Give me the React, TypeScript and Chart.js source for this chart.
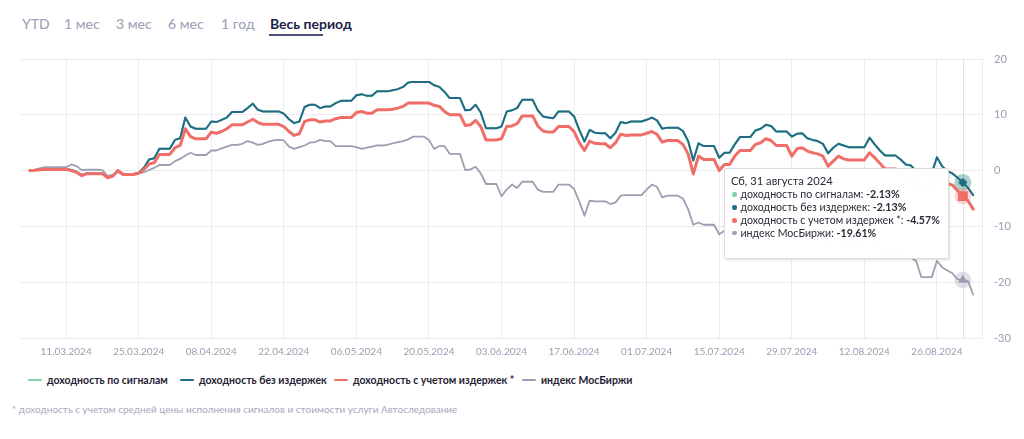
import React, { useEffect, useRef, useState } from 'react';
import { Chart, registerables } from 'chart.js';

Chart.register(...registerables);

// ---------- DATA ----------
// Daily points, starting Monday 04.03.2024 (rows = Mon..Sun)
const START_DATE = Date.UTC(2024, 2, 4);

// доходность без издержек
const noCostReturns: number[] = [
  0.0, 0.1, 0.25, 0.3, 0.3, 0.3, 0.3,
  0.3, 0.1, -0.2, -0.8, -0.5, -0.5, -0.5,
  -0.5, -1.2, -0.9, 0.05, -0.6, -0.6, -0.6,
  -0.4, 0.5, 2.0, 2.2, 3.9, 3.9, 3.9,
  5.5, 5.8, 9.5, 7.9, 7.5, 7.5, 7.5,
  8.8, 8.7, 9.1, 9.5, 10.5, 10.5, 10.5,
  11.2, 12.0, 10.9, 10.6, 10.6, 10.6, 10.6,
  10.2, 9.2, 8.5, 8.8, 11.4, 11.8, 11.8,
  11.2, 11.5, 11.5, 12.1, 12.5, 12.5, 12.5,
  13.5, 13.7, 13.4, 13.4, 14.2, 14.2, 14.2,
  14.4, 14.6, 15.0, 15.8, 15.9, 15.9, 15.9,
  15.9, 15.3, 15.0, 14.1, 13.0, 13.0, 13.0,
  10.8, 10.9, 11.8, 10.4, 7.6, 7.6, 7.6,
  7.9, 10.6, 10.8, 11.2, 12.7, 12.7, 12.7,
  10.8, 9.7, 9.5, 9.4, 10.6, 10.6, 10.6,
  9.7, 7.3, 5.2, 7.3, 6.8, 6.7, 6.7,
  5.8, 6.8, 8.7, 8.5, 8.8, 8.8, 8.8,
  9.1, 9.5, 9.0, 7.5, 7.7, 7.7, 7.7,
  7.1, 5.3, 1.8, 4.9, 4.4, 4.4, 4.4,
  2.3, 3.2, 3.2, 4.7, 6.0, 6.0, 6.0,
  7.2, 7.5, 8.2, 8.0, 7.0, 7.0, 7.0,
  6.1, 6.6, 6.7, 5.8, 5.5, 5.3, 4.8,
  3.1, 4.1, 4.8, 4.5, 4.2, 4.2, 4.2,
  4.2, 5.9, 4.7, 3.6, 2.7, 2.7, 2.7,
  2.0, 1.1, 0.9, -0.1, -0.5, -0.5, -0.5,
  2.4, 0.8, -0.1, -0.5, -1.3, -2.13, -3.1,
  -4.4,
];

// доходность по сигналам (совпадает с доходностью без издержек)
const signalReturns: number[] = noCostReturns.slice();

// доходность с учетом издержек *
const withCostReturns: number[] = [
  0.0, 0.05, 0.15, 0.2, 0.2, 0.2, 0.2,
  0.25, 0.0, -0.3, -0.9, -0.55, -0.55, -0.55,
  -0.55, -1.3, -1.0, 0.0, -0.7, -0.7, -0.7,
  -0.5, 0.2, 1.2, 1.4, 2.9, 2.9, 2.9,
  4.1, 4.5, 7.5, 6.1, 5.7, 5.7, 5.7,
  6.9, 6.7, 7.0, 7.5, 8.2, 8.2, 8.2,
  8.7, 9.2, 8.6, 8.3, 8.3, 8.3, 8.3,
  7.9, 7.0, 6.3, 6.6, 8.8, 9.1, 9.1,
  8.7, 8.9, 8.9, 9.3, 9.5, 9.5, 9.5,
  10.4, 10.6, 10.3, 10.3, 10.9, 10.9, 10.9,
  11.0, 11.2, 11.5, 12.1, 12.1, 12.1, 12.1,
  12.1, 11.7, 11.5, 10.6, 10.0, 10.0, 10.0,
  8.1, 8.2, 9.0, 7.9, 5.5, 5.5, 5.5,
  5.7, 7.9, 8.0, 8.4, 9.8, 9.8, 9.8,
  8.0, 7.1, 6.9, 6.9, 7.9, 7.9, 7.9,
  7.0, 5.0, 3.6, 5.3, 4.9, 4.8, 4.8,
  4.1, 5.0, 6.5, 6.3, 6.4, 6.4, 6.4,
  6.7, 7.0, 6.5, 5.1, 5.4, 5.4, 5.4,
  4.7, 3.0, -0.6, 2.6, 2.0, 2.0, 2.0,
  0.0, 1.1, 1.1, 2.6, 3.6, 3.6, 3.6,
  4.7, 5.0, 5.7, 5.4, 4.5, 4.5, 4.5,
  2.6, 3.9, 4.1, 3.5, 3.2, 3.0, 2.6,
  0.8, 1.7, 2.6, 2.1, 1.9, 1.9, 1.9,
  1.9, 3.2, 2.3, 1.3, 0.3, 0.3, 0.3,
  -0.4, -1.3, -1.5, -2.4, -2.8, -2.8, -2.8,
  -0.1, -1.6, -2.3, -2.6, -3.6, -4.57, -5.4,
  -6.9,
];

// индекс МосБиржи
const moexIndex: number[] = [
  0.0, 0.15, 0.45, 0.6, 0.6, 0.6, 0.6,
  0.6, 1.1, 0.8, 0.1, 0.15, 0.15, 0.15,
  0.1, -1.0, -0.7, -0.3, -0.7, -0.7, -0.7,
  -0.5, -0.3, 0.1, 0.5, 1.0, 1.0, 1.0,
  1.7, 2.1, 2.7, 3.2, 2.8, 2.8, 2.8,
  3.6, 3.6, 4.0, 4.3, 4.6, 4.6, 4.8,
  5.3, 5.0, 4.6, 4.8, 5.2, 5.4, 5.5,
  5.4, 4.3, 3.9, 4.2, 4.5, 5.0, 5.1,
  5.5, 5.3, 5.3, 4.4, 4.4, 4.4, 4.4,
  4.2, 3.9, 4.1, 4.3, 4.5, 4.5, 4.6,
  4.9, 5.1, 5.3, 5.6, 6.1, 6.1, 6.1,
  5.5, 3.9, 4.4, 4.4, 3.0, 3.0, 3.0,
  0.1, 0.2, 0.7, -0.5, -2.4, -2.4, -2.4,
  -4.6, -3.4, -2.5, -3.1, -2.0, -2.0, -2.0,
  -3.4, -3.8, -3.8, -3.8, -2.5, -2.5, -2.5,
  -3.3, -5.5, -8.1, -5.4, -5.5, -5.5, -5.5,
  -6.0, -5.7, -4.5, -4.4, -4.4, -4.4, -4.4,
  -3.4, -2.5, -2.9, -4.8, -4.5, -4.5, -4.5,
  -5.0, -6.9, -9.7, -9.3, -9.7, -9.7, -9.7,
  -11.4, -10.8, -10.8, -10.0, -9.3, -9.3, -9.3,
  -8.9, -8.7, -8.2, -8.5, -9.5, -9.5, -9.5,
  -10.6, -10.2, -10.1, -10.9, -11.2, -11.4, -11.8,
  -13.4, -12.6, -12.0, -12.4, -12.8, -12.8, -12.8,
  -12.9, -11.6, -12.6, -13.6, -14.4, -14.4, -14.4,
  -15.4, -15.5, -15.6, -16.2, -19.1, -19.1, -19.1,
  -16.2, -17.3, -17.9, -18.4, -19.5, -19.61, -19.8,
  -22.2,
];

const xTickLabels: string[] = [
  '11.03.2024', '25.03.2024', '08.04.2024', '22.04.2024', '06.05.2024',
  '20.05.2024', '03.06.2024', '17.06.2024', '01.07.2024', '15.07.2024',
  '29.07.2024', '12.08.2024', '26.08.2024',
];
const yTicks: number[] = [-30, -20, -10, 0, 10, 20];

const tabs: string[] = ['YTD', '1 мес', '3 мес', '6 мес', '1 год', 'Весь период'];
const activeTab = 'Весь период';

const hoverDate = '31.08.2024';
const tooltipTitle = 'Сб, 31 августа 2024';
const footnote = '* доходность с учетом средней цены исполнения сигналов и стоимости услуги Автоследование';

// ---------- STYLE ----------
const COLORS = {
  signals: '#7fd3a7',
  noCost: '#226b86',
  withCost: '#f06e68',
  moex: '#9d9eb2',
};
const GRID = '#ececee';
const AXIS_TEXT = '#9b9eb0';
const FONT = 'Lato, "Open Sans", sans-serif';
const TAB_LEFTS = [22, 64, 116, 168, 221, 270];
const LEGEND_LEFTS = [28, 180, 334, 522];

const pad = (n: number) => (n < 10 ? '0' + n : '' + n);
const dates: string[] = noCostReturns.map((_, i) => {
  const d = new Date(START_DATE + i * 86400000);
  return `${pad(d.getUTCDate())}.${pad(d.getUTCMonth() + 1)}.${d.getUTCFullYear()}`;
});
const HOVER_INDEX = dates.indexOf(hoverDate);
const tickIndices = xTickLabels.map((l) => dates.indexOf(l));

const toXY = (arr: number[]) => arr.map((v, i) => ({ x: i, y: v }));

type SeriesDef = {
  key: string;
  label: string;
  data: number[];
  color: string;
  width: number;
  pointStyle: any;
  radius: number;
  halo: string;
  order: number;
};

const series: SeriesDef[] = [
  { key: 'signals', label: 'доходность по сигналам', data: signalReturns, color: COLORS.signals, width: 2, pointStyle: 'circle', radius: 4, halo: 'rgba(127,211,167,0.35)', order: 3 },
  { key: 'noCost', label: 'доходность без издержек', data: noCostReturns, color: COLORS.noCost, width: 2, pointStyle: 'rectRot', radius: 4.5, halo: 'rgba(34,107,134,0.22)', order: 2 },
  { key: 'withCost', label: 'доходность с учетом издержек *', data: withCostReturns, color: COLORS.withCost, width: 3, pointStyle: 'rect', radius: 7, halo: 'rgba(240,110,104,0.25)', order: 0 },
  { key: 'moex', label: 'индекс МосБиржи', data: moexIndex, color: COLORS.moex, width: 1.8, pointStyle: 'triangle', radius: 5.5, halo: 'rgba(157,158,178,0.3)', order: 1 },
];

const fmt = (v: number) => `${v.toFixed(2)}%`;

export default function App() {
  const canvasRef = useRef<HTMLCanvasElement | null>(null);
  const [tip, setTip] = useState<{ right: number; top: number } | null>(null);

  useEffect(() => {
    if (!canvasRef.current) return;

    const crosshairHalo = {
      id: 'crosshairHalo',
      beforeDatasetsDraw(chart: any) {
        const { ctx, chartArea, scales } = chart;
        const x = scales.x.getPixelForValue(HOVER_INDEX);
        ctx.save();
        ctx.strokeStyle = '#e2e2e6';
        ctx.lineWidth = 1;
        ctx.beginPath();
        ctx.moveTo(Math.round(x) + 0.5, chartArea.top);
        ctx.lineTo(Math.round(x) + 0.5, chartArea.bottom);
        ctx.stroke();
        ctx.restore();
      },
      beforeDatasetDraw(chart: any, args: any) {
        const s = series[args.index];
        const el = args.meta.data[HOVER_INDEX];
        if (!s || !el) return;
        const ctx = chart.ctx;
        ctx.save();
        ctx.fillStyle = s.halo;
        ctx.beginPath();
        ctx.arc(el.x, el.y, 8.5, 0, Math.PI * 2);
        ctx.fill();
        ctx.restore();
      },
    };

    const chart = new Chart(canvasRef.current, {
      type: 'line',
      data: {
        datasets: series.map((s) => ({
          label: s.label,
          data: toXY(s.data),
          borderColor: s.color,
          backgroundColor: s.color,
          borderWidth: s.width,
          tension: 0,
          fill: false,
          order: s.order,
          pointStyle: s.pointStyle,
          pointRadius: (c: any) => (c.dataIndex === HOVER_INDEX ? s.radius : 0),
          pointBackgroundColor: s.color,
          pointBorderWidth: 0,
          pointBorderColor: s.color,
          borderJoinStyle: 'round' as const,
          borderCapStyle: 'round' as const,
        })),
      },
      options: {
        animation: false,
        responsive: false,
        events: [],
        layout: { padding: { top: 59, left: 20, right: 0, bottom: 0 } },
        plugins: {
          legend: { display: false },
          tooltip: { enabled: false },
          title: { display: false },
        },
        scales: {
          x: {
            type: 'linear',
            min: -1.9,
            max: 183.7,
            grid: { color: GRID, drawTicks: false, lineWidth: 1 },
            border: { display: false },
            ticks: {
              autoSkip: false,
              maxRotation: 0,
              padding: 8,
              color: AXIS_TEXT,
              font: { family: FONT, size: 10 },
              callback: (v: any) => dates[Number(v)] ?? '',
            },
            afterBuildTicks: (scale: any) => {
              scale.ticks = tickIndices.map((v) => ({ value: v }));
            },
            afterFit: (scale: any) => {
              scale.height = 32;
            },
          },
          y: {
            position: 'right',
            min: yTicks[0],
            max: yTicks[yTicks.length - 1],
            grid: { color: GRID, drawTicks: false },
            border: { display: true, color: GRID },
            ticks: {
              padding: 12,
              color: AXIS_TEXT,
              font: { family: FONT, size: 11 },
              callback: (v: any) => `${v}`,
            },
            afterBuildTicks: (scale: any) => {
              scale.ticks = yTicks.map((v) => ({ value: v }));
            },
            afterFit: (scale: any) => {
              scale.width = 42;
            },
          },
        },
      },
      plugins: [crosshairHalo],
    } as any);

    const px = chart.scales.x.getPixelForValue(HOVER_INDEX);
    const py = chart.scales.y.getPixelForValue(noCostReturns[HOVER_INDEX]);
    setTip({ right: px - 14, top: py - 14 });

    return () => chart.destroy();
  }, []);

  return (
    <div
      style={{
        position: 'fixed',
        left: 0,
        top: 0,
        width: 1024,
        height: 439,
        background: '#fff',
        overflow: 'hidden',
        fontFamily: FONT,
      }}
    >
      {/* period tabs */}
      {tabs.map((t, i) => (
        <div
          key={t}
          style={{
            position: 'absolute',
            left: TAB_LEFTS[i],
            top: 15,
            fontSize: 14,
            lineHeight: '18px',
            whiteSpace: 'nowrap',
            color: t === activeTab ? '#1b1f4a' : '#a0a4b8',
            fontWeight: t === activeTab ? 700 : 500,
          }}
        >
          {t}
          {t === activeTab && (
            <div style={{ position: 'absolute', left: -1, top: 19, width: 54, height: 1.5, background: '#4d5280' }} />
          )}
        </div>
      ))}

      <canvas ref={canvasRef} width={1024} height={370} style={{ position: 'absolute', left: 0, top: 0, width: 1024, height: 370 }} />

      {/* tooltip */}
      {tip && (
        <div
          style={{
            position: 'absolute',
            right: 1024 - tip.right,
            top: tip.top,
            background: 'rgba(255,255,255,0.98)',
            border: '1px solid #dcdce0',
            borderRadius: 2,
            boxShadow: '1px 1px 3px rgba(0,0,0,0.12)',
            padding: '6px 8px 19px 6px',
            color: '#2a2b38',
            fontSize: 10.6,
            lineHeight: '12.8px',
            whiteSpace: 'nowrap',
          }}
        >
          <div style={{ fontSize: 11.2 }}>{tooltipTitle}</div>
          {series.map((s) => (
            <div key={s.key} style={{ display: 'flex', alignItems: 'center' }}>
              <span style={{ display: 'inline-block', width: 4.5, height: 4.5, borderRadius: '50%', background: s.color, marginLeft: 1, marginRight: 4 }} />
              <span>{s.label}:&nbsp;</span>
              <b>{fmt(s.data[HOVER_INDEX])}</b>
            </div>
          ))}
        </div>
      )}

      {/* legend */}
      {series.map((s, i) => (
        <div
          key={s.key}
          style={{
            position: 'absolute',
            left: LEGEND_LEFTS[i],
            top: 373,
            display: 'flex',
            alignItems: 'center',
            fontSize: 10.5,
            lineHeight: '14px',
            fontWeight: 700,
            color: '#1f2233',
            whiteSpace: 'nowrap',
          }}
        >
          <span style={{ display: 'inline-block', width: 14, height: 2.5, background: s.color, borderRadius: 1, marginRight: 5 }} />
          <span>{s.label}</span>
        </div>
      ))}

      {/* footnote */}
      <div style={{ position: 'absolute', left: 12, top: 402, fontSize: 10, lineHeight: '14px', color: '#a6a9ba', whiteSpace: 'nowrap' }}>{footnote}</div>
    </div>
  );
}
